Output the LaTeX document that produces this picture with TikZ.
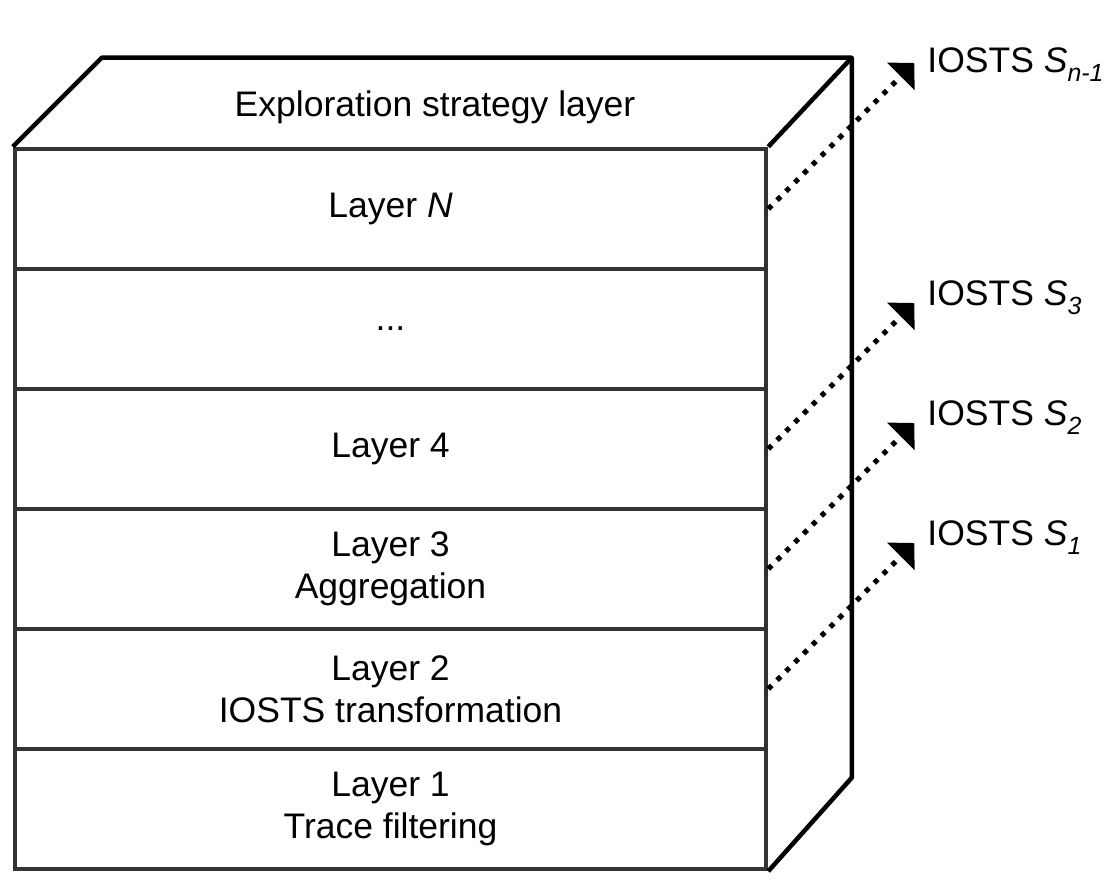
\documentclass[tikz,border=0pt]{standalone}
\usepackage{fontspec}
\setmainfont{Liberation Sans}
\usepackage{tikz}
\usetikzlibrary{arrows.meta}
\usetikzlibrary{positioning}
\definecolor{boxgray}{gray}{0.2}

\begin{document}
\begin{tikzpicture}[x=1pt, y=1pt, every node/.style={font=\fontsize{35.5}{42}\selectfont}]
		\tikzstyle{layer}=[draw=boxgray, line width=4.5pt, minimum width=751pt, minimum height=120pt, align=center, inner sep=0pt]
		\tikzstyle{side}=[draw=black, line width=4.5pt, line join=round]
		\tikzstyle{flow}=[line width=5pt, dash pattern=on 5pt off 7.5pt, -{Triangle[length=19pt, width=38pt]}]
		\tikzstyle{iosts}=[inner sep=0pt, anchor=base west]
		
		\useasboundingbox (0,0) rectangle (1113,882);
		
		\node[layer] (layer1) at (390.5, 73)  {Layer 1\\Trace filtering};
		\node[layer] (layer2) at (390.5, 193) {Layer 2\\IOSTS transformation};
		\node[layer] (layer3) at (390.5, 313) {Layer 3\\Aggregation};
		\node[layer] (layer4) at (390.5, 433) {Layer 4};
		\node[layer] (dots)   at (390.5, 553) {...};
		\node[layer] (layerN) at (390.5, 673) {Layer \textit{N}};
		
		% back of the box
		\draw[side] (layerN.north west) -- ++(89,89) -- ++(750,0) coordinate (backtop) -- (layerN.north east);
		\draw[side] (backtop) -- ++(0,-720) -- (layer1.south east);
		\node (top) at (435, 775) {Exploration strategy layer};
		
		\coordinate[above right=146pt and 146pt of layerN.east] (tipN);
		\coordinate[above right=146pt and 146pt of layer4.east] (tip3);
		\coordinate[above right=146pt and 146pt of layer3.east] (tip2);
		\coordinate[above right=146pt and 146pt of layer2.east] (tip1);
		
		\path[flow]
		(layerN.east) edge (tipN)
		(layer4.east) edge (tip3)
		(layer3.east) edge (tip2)
		(layer2.east) edge (tip1)
		;
		
		\node[right=13pt of tipN, iosts, yshift=-10pt] (sN) {IOSTS \textit{S}\textsubscript{\textit{n-1}}};
		\node[right=13pt of tip3, iosts, yshift=-3pt] (s3) {IOSTS \textit{S}\textsubscript{\textit{3}}};
		\node[right=13pt of tip2, iosts, yshift=-3pt] (s2) {IOSTS \textit{S}\textsubscript{\textit{2}}};
		\node[right=13pt of tip1, iosts, yshift=-3pt] (s1) {IOSTS \textit{S}\textsubscript{\textit{1}}};
\end{tikzpicture}
\end{document}
